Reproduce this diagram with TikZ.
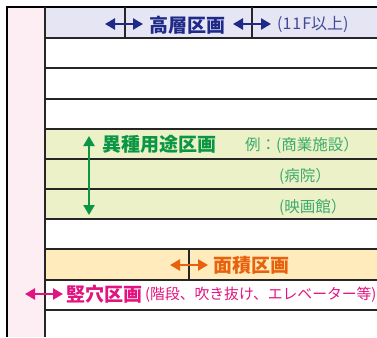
\documentclass[tikz,border=0pt]{standalone}
\usepackage{fontspec}
\setmainfont{Noto Sans CJK JP}
\usetikzlibrary{arrows.meta}
\definecolor{cLav}{HTML}{E5E5F4}
\definecolor{cPink}{HTML}{FDEEF4}
\definecolor{cGreen}{HTML}{ECF1C8}
\definecolor{cOrange}{HTML}{FFEBBB}
\definecolor{cNavy}{HTML}{1F2A88}
\definecolor{cGrn}{HTML}{0B9646}
\definecolor{cOra}{HTML}{E8620E}
\definecolor{cMag}{HTML}{E2147F}

\begin{document}
\begin{tikzpicture}[
    x=1pt, y=-1pt,
    grid/.style={draw=black!85, line width=1.1pt},
    frame/.style={draw=black, line width=1.6pt},
    dbl/.style={{Triangle[length=10pt,width=11pt]}-{Triangle[length=10pt,width=11pt]},
                line width=2.4pt},
    head/.style={font=\fontsize{19}{21}\selectfont\bfseries, anchor=west, inner sep=0pt},
    note/.style={font=\fontsize{15.5}{17}\selectfont, anchor=west, inner sep=0pt},
]
\useasboundingbox (0,0) rectangle (377,337);

% ===================== Bandas =====================
\fill[cPink] (7,7) rectangle (45,337);
\fill[cLav] (45,7) rectangle (377,38);
\fill[cGreen] (45,129) rectangle (377,219);
\fill[cOrange] (45,249) rectangle (377,280);

% ===================== Pisos =====================
\foreach \y in {38,68,99,129,159,189,219,249,280,310} {\draw[grid] (45,\y) -- (377,\y);}
\draw[frame] (7,337) -- (7,7) -- (377,7);
\draw[grid] (45,7) -- (45,337);
\foreach \x in {125, 252} {\draw[grid] (\x,7) -- (\x,38);}
\draw[grid] (189,249) -- (189,280);

% ===================== Alto: 高層区画 =====================
\coordinate (k1a) at (105,24);  \coordinate (k1b) at (143,24);
\coordinate (k2a) at (233,24);  \coordinate (k2b) at (271,24);
\draw[dbl, cNavy] (k1a) -- (k1b);
\draw[dbl, cNavy] (k2a) -- (k2b);
\node[head, text=cNavy] (koso) at (149,25) {高層区画};
\node[note, font=\fontsize{16}{18}\selectfont, text=cNavy!85] (kosoSub) at (277,24)
      {(1\kern1pt 1\kern1pt F以上)};

% ===================== Verde: 異種用途区画 =====================
\coordinate (ia) at (89,136);  \coordinate (ib) at (89,215);
\draw[dbl, cGrn] (ia) -- (ib);
\node[head, text=cGrn] (ishu) at (102,144) {異種用途区画};
\node[note, text=cGrn!80] (rei) at (245,145) {例：(商業施設）};
\node[note, text=cGrn!80] (byoin) at (279,176) {(病院）};
\node[note, text=cGrn!80] (eiga) at (279,207) {(映画館）};

% ===================== Naranja: 面積区画 =====================
\coordinate (ma) at (170,265);  \coordinate (mb) at (208,265);
\draw[dbl, cOra] (ma) -- (mb);
\node[head, text=cOra] (menseki) at (213,265) {面積区画};

% ===================== Rosa: 竪穴区画 =====================
\coordinate (ta) at (25,294);  \coordinate (tb) at (63,294);
\draw[dbl, cMag] (ta) -- (tb);
\node[head, text=cMag] (tateana) at (66,294) {竪穴区画};
\node[note, font=\fontsize{14.8}{17}\selectfont, text=cMag] (tateSub) at (145,295)
      {(階段、吹き抜け、エレベーター等)};

\end{tikzpicture}
\end{document}
